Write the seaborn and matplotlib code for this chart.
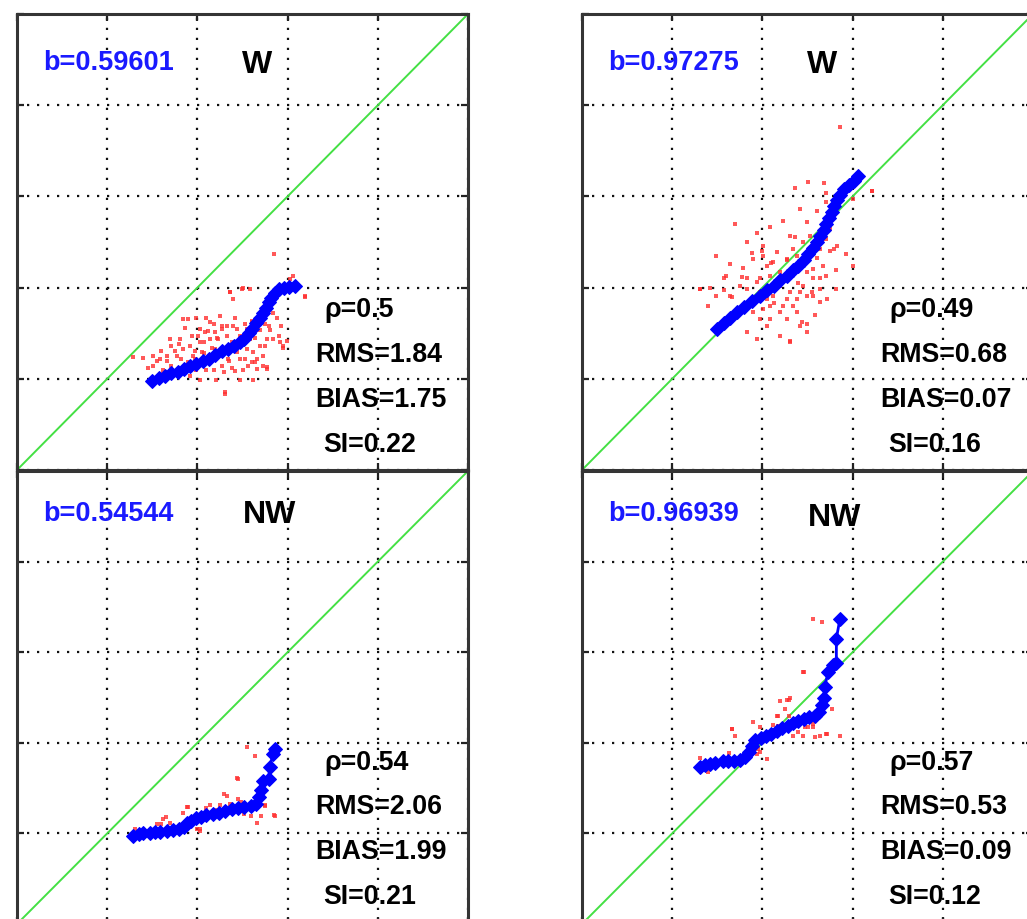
import numpy as np
import pandas as pd
import matplotlib
matplotlib.use("Agg")
import matplotlib.pyplot as plt
import seaborn as sns

sns.set_style("white")
plt.rcParams['font.family'] = ['Liberation Sans', 'DejaVu Sans']

# ---------------- data ----------------
# Quantile-quantile curves (model quantile vs. observed quantile)
qq_w_left_x = [1.50, 1.57, 1.64, 1.71, 1.78, 1.85, 1.92, 1.99, 2.06, 2.13, 2.20, 2.27, 2.34, 2.41,
               2.47, 2.52, 2.57, 2.61, 2.65, 2.69, 2.73, 2.76, 2.79, 2.82, 2.86, 2.91, 2.96, 3.02, 3.08]
qq_w_left_y = [0.98, 1.01, 1.03, 1.06, 1.08, 1.11, 1.14, 1.16, 1.19, 1.22, 1.26, 1.30, 1.33, 1.36,
               1.40, 1.44, 1.50, 1.55, 1.61, 1.67, 1.72, 1.78, 1.84, 1.89, 1.94, 1.98, 2.00, 2.01, 2.02]

qq_w_right_x = [1.50, 1.57, 1.64, 1.72, 1.80, 1.88, 1.97, 2.05, 2.13, 2.20, 2.27, 2.34, 2.40, 2.46,
                2.51, 2.56, 2.60, 2.64, 2.68, 2.71, 2.74, 2.77, 2.79, 2.83, 2.86, 2.90, 2.96, 3.01, 3.06]
qq_w_right_y = [1.55, 1.61, 1.67, 1.73, 1.79, 1.85, 1.91, 1.97, 2.02, 2.08, 2.13, 2.19, 2.24, 2.30,
                2.37, 2.43, 2.50, 2.57, 2.63, 2.70, 2.76, 2.83, 2.89, 2.96, 3.02, 3.08, 3.12, 3.17, 3.22]

qq_nw_left_x = [1.29, 1.35, 1.40, 1.47, 1.53, 1.59, 1.66, 1.73, 1.80, 1.85, 1.89, 1.93, 1.98, 2.04, 2.10,
                2.17, 2.24, 2.31, 2.38, 2.45, 2.52, 2.59, 2.65, 2.68, 2.70, 2.73, 2.79, 2.80, 2.84, 2.86]
qq_nw_left_y = [0.97, 0.99, 1.00, 1.00, 1.01, 1.02, 1.03, 1.04, 1.05, 1.07, 1.11, 1.14, 1.17, 1.18, 1.20,
                1.21, 1.23, 1.25, 1.27, 1.28, 1.29, 1.30, 1.32, 1.40, 1.48, 1.58, 1.60, 1.73, 1.88, 1.93]

qq_nw_right_x = [1.31, 1.36, 1.42, 1.47, 1.56, 1.62, 1.69, 1.75, 1.81, 1.85, 1.88, 1.92, 1.98, 2.04, 2.10, 2.16,
                 2.22, 2.28, 2.34, 2.40, 2.46, 2.52, 2.58, 2.63, 2.66, 2.68, 2.69, 2.73, 2.78, 2.82, 2.82, 2.86]
qq_nw_right_y = [1.73, 1.76, 1.77, 1.78, 1.80, 1.80, 1.80, 1.81, 1.84, 1.90, 1.97, 2.03, 2.05, 2.07, 2.10, 2.13,
                 2.16, 2.19, 2.22, 2.24, 2.26, 2.28, 2.30, 2.34, 2.42, 2.50, 2.62, 2.78, 2.86, 2.88, 3.15, 3.37]

# Paired samples (scatter)
pts_w_left_x = [1.29, 1.40, 1.51, 1.60, 1.70, 1.84, 1.90, 1.99, 2.03, 2.10, 2.18, 2.19, 2.25, 2.14, 2.03,
                1.92, 1.84, 1.77, 1.95, 1.99, 2.10, 2.21, 2.31, 2.29, 2.31, 2.33, 2.40, 2.42, 2.47, 2.47,
                2.51, 2.58, 2.62, 2.69, 2.73, 2.77, 2.81, 2.88, 2.88, 2.92, 2.95, 3.03, 2.40, 2.49, 2.58,
                2.36, 2.14, 2.07, 1.92, 2.03, 2.18, 2.38, 2.56, 2.69, 3.19, 2.99, 1.82, 1.71, 1.62, 1.88,
                2.55, 2.66, 2.85, 2.36, 2.51, 3.06, 3.19, 2.31, 2.95, 2.77, 1.45, 1.55, 1.66, 1.75, 1.80,
                1.97, 2.07, 2.12, 2.22, 2.27, 2.35, 2.44, 2.53, 2.60, 2.64, 2.71, 2.75, 2.84, 1.58, 2.16,
                1.86, 1.94, 1.97, 2.05, 2.12, 2.19, 2.23, 2.27, 2.34, 2.38, 2.42, 2.44, 2.49, 2.53, 2.60,
                2.64, 2.66, 2.73, 2.75, 2.79, 2.84, 2.90, 2.93, 2.55, 2.60, 2.67, 2.33, 2.27, 2.08, 2.01,
                1.81, 1.71, 1.66, 1.59, 1.51, 1.90, 2.21, 2.47, 2.62, 2.77]
pts_w_left_y = [1.24, 1.23, 1.25, 1.31, 1.44, 1.66, 1.66, 1.67, 1.55, 1.67, 1.60, 1.51, 1.69, 1.44, 1.40,
                1.36, 1.33, 1.25, 1.25, 1.10, 1.10, 1.22, 1.33, 1.07, 0.85, 1.47, 1.58, 1.67, 1.47, 1.22,
                1.10, 1.44, 1.29, 1.53, 1.14, 1.44, 1.53, 1.95, 1.67, 1.40, 1.34, 2.09, 1.88, 1.98, 1.98,
                1.95, 1.62, 1.40, 1.03, 0.99, 1.10, 1.12, 1.14, 1.36, 1.91, 1.41, 1.22, 1.14, 1.10, 1.10,
                1.33, 1.22, 2.37, 1.95, 2.00, 2.13, 1.90, 0.83, 1.36, 1.13, 1.12, 1.20, 1.19, 1.30, 1.38,
                1.31, 1.28, 1.52, 1.45, 1.58, 1.20, 1.55, 1.60, 1.63, 1.18, 1.70, 1.60, 1.72, 1.05, 1.34,
                1.56, 1.47, 1.22, 1.29, 1.22, 1.33, 1.44, 1.14, 1.22, 1.40, 1.09, 1.29, 1.40, 1.22, 1.18,
                1.45, 1.11, 1.25, 1.36, 1.58, 1.44, 1.47, 1.58, 1.55, 1.62, 1.60, 1.58, 1.55, 1.51, 1.47,
                1.44, 1.36, 1.25, 1.22, 1.14, 1.18, 0.99, 0.99, 0.99, 1.11]

pts_w_right_x = [2.51, 2.68, 2.36, 2.71, 3.21, 2.71, 3.00, 2.42, 2.60, 2.23, 2.49, 1.70, 2.08, 1.94, 2.31,
                 2.71, 2.83, 2.93, 1.83, 2.01, 2.16, 2.34, 1.49, 1.64, 1.79, 1.90, 2.05, 2.19, 2.56, 2.67,
                 2.82, 3.00, 1.42, 1.31, 1.57, 1.75, 1.94, 2.12, 2.31, 2.45, 2.49, 2.64, 2.82, 1.40, 1.71,
                 2.01, 2.08, 2.23, 2.38, 2.49, 2.31, 2.19, 1.83, 2.05, 2.38, 2.64, 1.97, 1.83, 2.19, 2.56,
                 1.60, 2.08, 2.31, 2.86, 3.21, 2.31, 2.49, 2.72, 1.31, 1.88, 2.27, 2.40, 2.52, 2.60, 2.75,
                 1.66, 1.93, 2.13, 2.44, 2.58, 2.00, 2.36, 2.55, 1.77, 2.10,
                 2.01, 2.12, 2.27, 2.38, 2.45, 2.53, 2.64, 2.75, 2.79, 2.49, 1.97, 2.05, 2.16, 2.27, 2.34,
                 2.42, 2.56, 2.71, 2.64, 2.49, 1.64, 1.49, 1.79, 1.90, 2.08, 2.19, 2.05, 1.97, 2.27, 2.42,
                 1.94, 1.83, 1.57]
pts_w_right_y = [3.16, 3.15, 3.09, 3.04, 3.06, 2.94, 2.97, 2.86, 2.84, 2.73, 2.72, 2.70, 2.66, 2.60, 2.57,
                 2.53, 2.46, 2.37, 2.50, 2.46, 2.39, 2.42, 2.35, 2.26, 2.22, 2.31, 2.24, 2.17, 2.20, 2.24,
                 2.19, 2.24, 2.00, 1.98, 1.97, 2.02, 2.06, 1.91, 1.95, 2.02, 1.91, 1.98, 1.98, 1.80, 1.73,
                 1.77, 1.66, 1.80, 1.73, 1.60, 1.40, 1.47, 1.51, 1.87, 1.87, 1.84, 2.10, 1.98, 2.02, 2.10,
                 2.13, 2.13, 2.17, 3.76, 3.06, 1.41, 1.51, 1.88, 1.98, 2.38, 2.30, 2.05, 2.35, 2.32, 2.40,
                 1.90, 1.85, 1.83, 1.62, 1.70, 2.40, 2.55, 1.95, 2.12, 2.27,
                 2.35, 2.28, 2.31, 2.35, 2.50, 2.57, 2.42, 2.64, 2.42, 2.35, 1.95, 1.98, 2.06, 1.87, 1.80,
                 1.95, 1.91, 2.13, 2.10, 2.17, 1.91, 1.91, 1.80, 1.73, 1.80, 1.73, 1.58, 1.66, 1.66, 1.58,
                 1.44, 2.10, 2.10]

pts_nw_left_x = [2.55, 2.64, 2.44, 2.30, 2.45, 1.90, 1.84, 1.65, 1.60, 1.70, 2.14, 2.25, 2.75, 2.52, 2.59,
                 2.66, 2.71, 2.85, 2.03, 2.00, 1.31, 2.40, 2.30, 2.45, 2.86, 2.75, 2.33, 1.88, 1.62, 1.55,
                 2.03, 2.20, 2.36, 2.48, 2.10]
pts_nw_left_y = [1.95, 1.85, 1.61, 1.43, 1.38, 1.29, 1.22, 1.18, 1.10, 1.12, 1.31, 1.31, 1.31, 1.21, 1.19,
                 1.12, 1.19, 1.20, 1.03, 1.05, 1.05, 1.27, 1.21, 1.60, 1.19, 1.30, 1.41, 1.29, 1.16, 1.10,
                 1.05, 1.26, 1.33, 1.35, 1.28]

pts_nw_right_x = [2.56, 2.66, 2.46, 2.19, 2.30, 2.25, 2.17, 1.90, 2.17, 1.66, 1.70, 1.97, 2.34, 2.47, 2.51,
                  2.56, 2.45, 2.58, 2.64, 2.71, 2.86, 2.77, 1.95, 1.94, 1.63, 1.31, 1.40, 2.27, 2.30, 2.38,
                  2.45, 2.31, 2.16, 2.72, 1.66, 2.05, 1.97, 2.56, 2.12, 2.40]
pts_nw_right_y = [3.37, 3.33, 2.78, 2.46, 2.47, 2.37, 2.30, 2.23, 2.19, 2.15, 2.08, 2.17, 2.08, 2.17, 2.17,
                  2.17, 2.08, 2.06, 2.08, 2.10, 2.08, 2.37, 1.93, 1.88, 1.89, 1.83, 1.68, 2.47, 2.30, 2.26,
                  2.78, 2.49, 2.30, 2.10, 2.15, 1.82, 1.90, 2.21, 2.20, 2.12]

b_labels = ["b=0.59601", "b=0.97275", "b=0.54544", "b=0.96939"]
dir_labels = ["W", "W", "NW", "NW"]
rho_labels = ["\u03c1=0.5", "\u03c1=0.49", "\u03c1=0.54", "\u03c1=0.57"]
rms_labels = ["RMS=1.84", "RMS=0.68", "RMS=2.06", "RMS=0.53"]
bias_labels = ["BIAS=1.75", "BIAS=0.07", "BIAS=1.99", "BIAS=0.09"]
si_labels = ["SI=0.22", "SI=0.16", "SI=0.21", "SI=0.12"]

diag = [0, 5]
ticks = [0, 1, 2, 3, 4, 5]

# ---------------- figure ----------------
W, H = 1027, 920
fig = plt.figure(figsize=(W / 100, H / 100), dpi=100)

def frac_box(x0, y_top, w, h):
    return [x0 / W, (H - y_top - h) / H, w / W, h / H]

boxes = [frac_box(17, 15, 451, 456), frac_box(582, 15, 451, 456),
         frac_box(17, 472, 451, 453), frac_box(582, 472, 451, 453)]

qq_sets = [(qq_w_left_x, qq_w_left_y), (qq_w_right_x, qq_w_right_y),
           (qq_nw_left_x, qq_nw_left_y), (qq_nw_right_x, qq_nw_right_y)]
pt_sets = [(pts_w_left_x, pts_w_left_y), (pts_w_right_x, pts_w_right_y),
           (pts_nw_left_x, pts_nw_left_y), (pts_nw_right_x, pts_nw_right_y)]

# text rows (top row panels / bottom row panels)
b_y = [4.47, 4.47, 4.54, 4.54]
dir_x = [2.66, 2.66, 2.80, 2.80]
dir_y = [4.45, 4.45, 4.52, 4.49]
stat_y = [[1.76, 1.27, 0.78, 0.29], [1.76, 1.27, 0.78, 0.29],
          [1.79, 1.30, 0.81, 0.31], [1.79, 1.30, 0.81, 0.31]]

for i, box in enumerate(boxes):
    ax = fig.add_axes(box)
    ax.set_xlim(0, 5)
    ax.set_ylim(0, 5)

    # 1:1 reference line
    sns.lineplot(x=diag, y=diag, ax=ax, color="#44e044", linewidth=1.4, zorder=2)

    px, py = pt_sets[i]
    sns.scatterplot(x=px, y=py, ax=ax, marker="s", s=5, color="#ff3030",
                    linewidth=0, alpha=0.8, zorder=3)

    qx, qy = qq_sets[i]
    qq = pd.DataFrame({"x": qx, "y": qy})
    sns.lineplot(data=qq, x="x", y="y", ax=ax, sort=False, estimator=None,
                 color="#0000ff", linewidth=2.0, marker="D", markersize=7.5,
                 markeredgecolor="#0000ff", markerfacecolor="#0000ff", zorder=4)

    ax.set_xticks(ticks)
    ax.set_yticks(ticks)
    ax.set_xticklabels([])
    ax.set_yticklabels([])
    ax.set_xlabel("")
    ax.set_ylabel("")
    ax.tick_params(direction="in", length=5, width=1.6, color="#222222",
                   top=True, right=True, bottom=True, left=True)
    ax.grid(True, color="#111111", linestyle=(0, (1, 3.5)), linewidth=1.6)
    for sp in ax.spines.values():
        sp.set_color("#353535")
        sp.set_linewidth(2.2)
        sp.set_visible(True)

    ax.text(0.29, b_y[i], b_labels[i], color="#1a1aff", fontsize=19.5,
            fontweight="bold", ha="left", va="center", zorder=5)
    ax.text(dir_x[i], dir_y[i], dir_labels[i], color="black", fontsize=23,
            fontweight="bold", ha="center", va="center", zorder=5)
    sx = [3.41, 3.31, 3.31, 3.39]
    for lab, xx, yy in zip([rho_labels[i], rms_labels[i], bias_labels[i], si_labels[i]], sx, stat_y[i]):
        ax.text(xx, yy, lab, color="black", fontsize=19.3, fontweight="bold",
                ha="left", va="center", zorder=5)

fig.savefig("out.png", dpi=100)
